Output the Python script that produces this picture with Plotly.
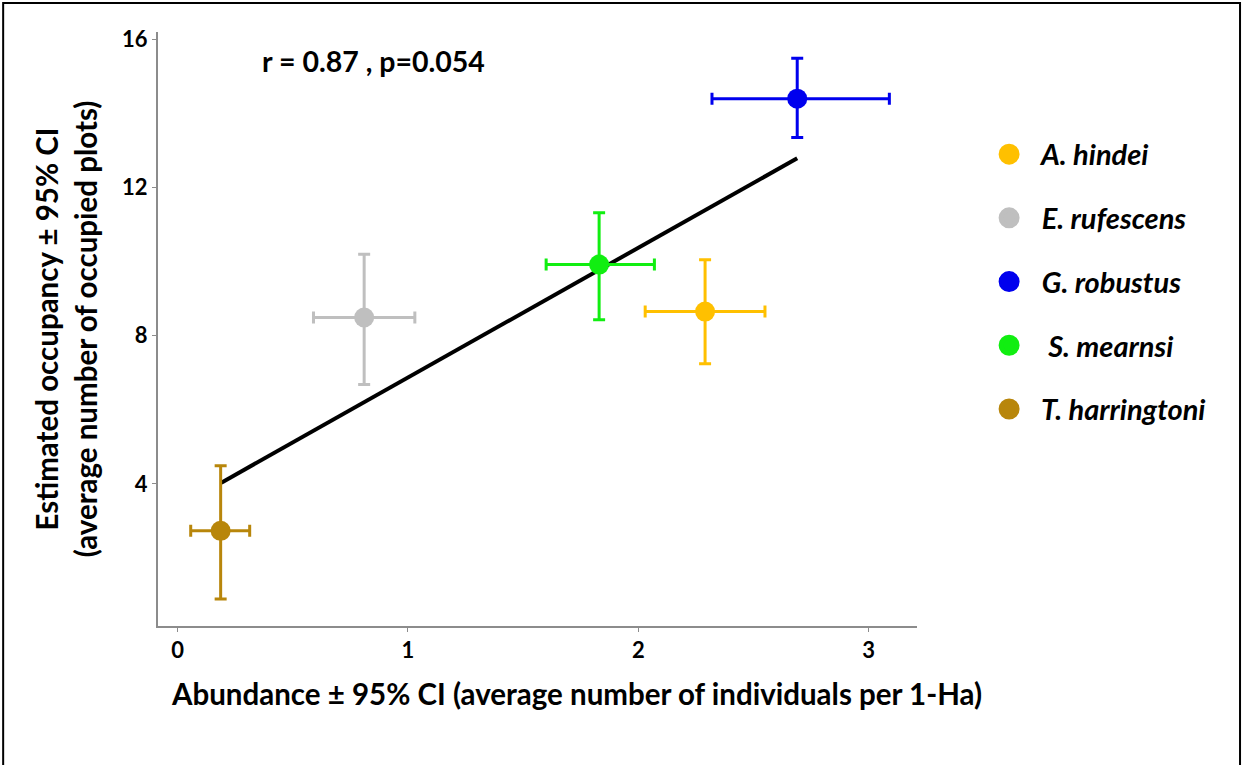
import plotly.graph_objects as go

species = ["A. hindei", "E. rufescens", "G. robustus", "S. mearnsi", "T. harringtoni"]
legend_labels = ["\u00a0\u00a0A. hindei", "\u00a0\u00a0E. rufescens", "\u00a0\u00a0G. robustus",
                 "\u00a0\u00a0\u00a0S. mearnsi", "\u00a0\u00a0T. harringtoni"]
colors = ["#FFC000", "#BFBFBF", "#0000EE", "#11EE11", "#B8860B"]
abundance = [2.29, 0.81, 2.69, 1.83, 0.187]
abund_lo = [2.03, 0.59, 2.32, 1.60, 0.057]
abund_hi = [2.55, 1.03, 3.09, 2.07, 0.313]
occupancy = [8.65, 8.49, 14.40, 9.92, 2.73]
occ_lo = [7.24, 6.68, 13.35, 8.43, 0.89]
occ_hi = [10.05, 10.20, 15.49, 11.32, 4.49]

fit_x = [0.19, 2.69]
fit_y = [4.03, 12.79]

x_ticks = [0, 1, 2, 3]
y_ticks = [4, 8, 12, 16]

FONT = "Lato"

fig = go.Figure()

fig.add_trace(go.Scatter(
    x=fit_x, y=fit_y, mode="lines",
    line=dict(color="black", width=4), showlegend=False, hoverinfo="skip"))

for i, name in enumerate(species):
    fig.add_trace(go.Scatter(
        x=[abundance[i]], y=[occupancy[i]], mode="markers", name=name,
        showlegend=False,
        marker=dict(color=colors[i], size=20),
        error_x=dict(type="data", symmetric=False,
                     array=[abund_hi[i] - abundance[i]],
                     arrayminus=[abundance[i] - abund_lo[i]],
                     color=colors[i], thickness=3, width=6),
        error_y=dict(type="data", symmetric=False,
                     array=[occ_hi[i] - occupancy[i]],
                     arrayminus=[occupancy[i] - occ_lo[i]],
                     color=colors[i], thickness=3, width=6),
    ))

# legend entries (bigger markers)
for i, name in enumerate(species):
    fig.add_trace(go.Scatter(
        x=[None], y=[None], mode="markers", name=legend_labels[i],
        legendgroup=name, showlegend=True,
        marker=dict(color=colors[i], size=16, line=dict(color=colors[i], width=5)),
    ))

fig.update_layout(
    width=1243, height=765,
    paper_bgcolor="white", plot_bgcolor="white",
    margin=dict(l=158, r=326, t=32, b=139),
    font=dict(family=FONT, color="black"),
    legend=dict(
        x=1.095, y=0.837, xanchor="left", yanchor="top",
        font=dict(family=FONT, size=29, color="black", weight="bold", style="italic"),
        traceorder="grouped", tracegroupgap=23, itemsizing="trace",
        bgcolor="rgba(0,0,0,0)"),
    annotations=[
        dict(text="r = 0.87 , p=0.054", xref="paper", yref="paper",
             x=0.134, y=0.952, xanchor="left", yanchor="middle", showarrow=False,
             font=dict(family=FONT, size=28.5, weight="bold", color="black")),
        dict(text="Abundance ± 95% CI (average number of individuals per 1-Ha)",
             xref="paper", yref="paper", x=0.552, y=-0.1128,
             xanchor="center", yanchor="middle", showarrow=False,
             font=dict(family=FONT, size=29.5, weight="bold", color="black")),
    ],
    shapes=[dict(type="rect", xref="paper", yref="paper",
                 x0=-0.204, x1=1.4256, y0=-0.3, y1=1.0488,
                 line=dict(color="black", width=2))],
)

fig.update_xaxes(
    range=[-0.085, 3.21], tickvals=x_ticks, showgrid=False, zeroline=False,
    showline=True, linecolor="#8c8c8c", linewidth=2,
    ticks="outside", ticklen=4, tickcolor="#8c8c8c",
    tickfont=dict(family=FONT, size=22, weight="bold", color="black"))

fig.update_yaxes(
    range=[0.16, 16.2], tickvals=y_ticks, showgrid=False, zeroline=False,
    showline=True, linecolor="#8c8c8c", linewidth=2,
    ticks="outside", ticklen=4, tickcolor="#8c8c8c",
    tickfont=dict(family=FONT, size=22, weight="bold", color="black"),
    title=dict(text="Estimated occupancy ± 95% CI<br>(average number of occupied plots)",
               font=dict(family=FONT, size=29.5, weight="bold", color="black"),
               standoff=16))

fig.write_html("out.html", config={"displayModeBar": False},
               post_script="document.body.style.margin='0';")
